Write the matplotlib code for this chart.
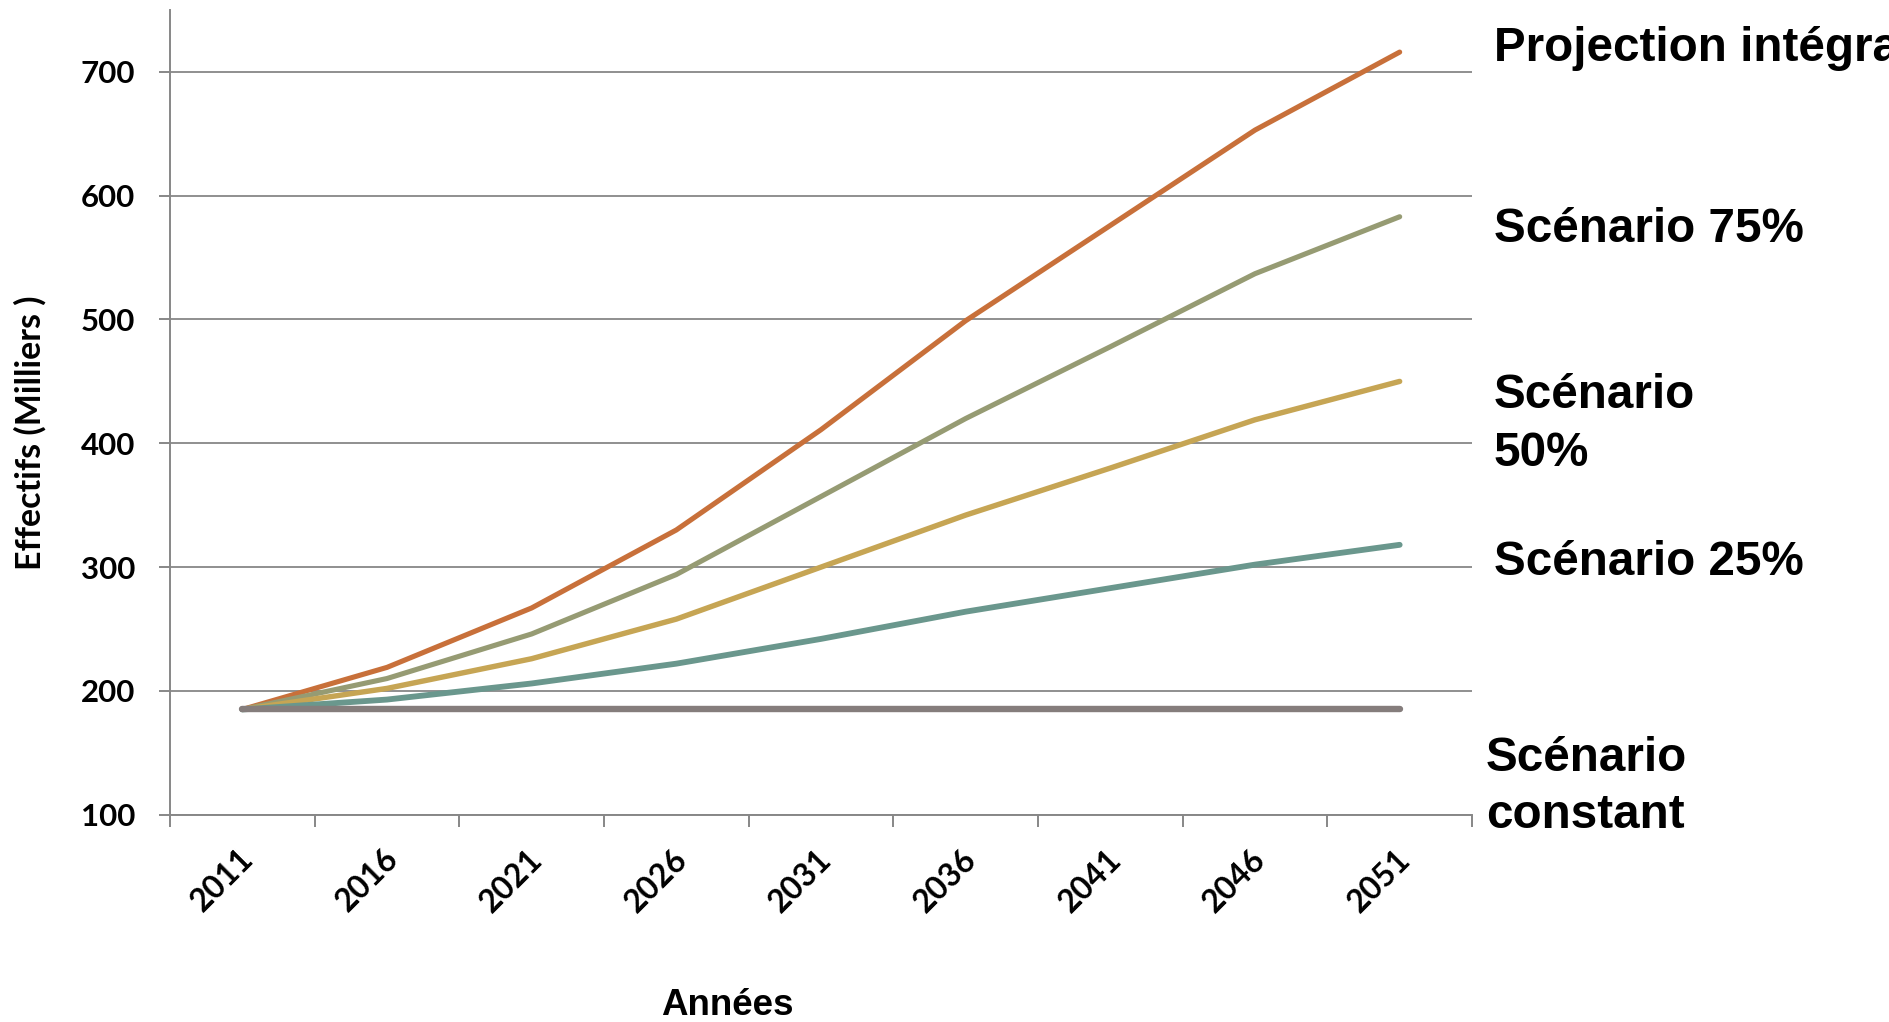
import matplotlib
matplotlib.use("Agg")
import matplotlib.pyplot as plt
from matplotlib.transforms import ScaledTranslation

# Data (thousands)
years = [2011, 2016, 2021, 2026, 2031, 2036, 2041, 2046, 2051]
projection_integrale = [185, 219, 267, 330, 411, 499, 576, 653, 716]
scenario_75 = [185, 210, 246, 294, 357, 420, 478, 537, 583]
scenario_50 = [185, 202, 226, 258, 300, 342, 380, 419, 450]
scenario_25 = [185, 193, 206, 222, 242, 264, 283, 302, 318]
scenario_constant = [185, 185, 185, 185, 185, 185, 185, 185, 185]
y_ticks = [100, 200, 300, 400, 500, 600, 700]

W, H = 1889, 1022
fig = plt.figure(figsize=(W / 100, H / 100), dpi=100)
ax = fig.add_axes([170 / W, 1 - 814.7 / H, (1472 - 170) / W, (814.7 - 10) / H])

grey = "#878787"
ytick_font = dict(family="Lato", weight="bold", size=22.5)
xtick_font = dict(family="Lato", weight="bold", size=23)

x = list(range(len(years)))
series = [
    (projection_integrale, "#C8703A", 3.7),
    (scenario_75, "#969B73", 3.7),
    (scenario_50, "#C6A554", 3.9),
    (scenario_25, "#6A978D", 4.2),
    (scenario_constant, "#857D7C", 4.6),
]
for vals, col, lw in series:
    ax.plot(x, vals, color=col, lw=lw, solid_capstyle="round",
            solid_joinstyle="round", zorder=3)

ax.set_xlim(-0.5, len(years) - 0.5)
ax.set_ylim(100, 750)

# Axes styling
for side in ("top", "right"):
    ax.spines[side].set_visible(False)
for side in ("left", "bottom"):
    ax.spines[side].set_color(grey)
    ax.spines[side].set_linewidth(1.4)

ax.set_yticks(y_ticks)
ax.set_yticklabels([str(v) for v in y_ticks], fontdict=ytick_font)
ax.tick_params(axis="y", length=8, width=1.4, color=grey, pad=17)
ax.yaxis.grid(True, color=grey, lw=1.3)
ax.set_axisbelow(True)

# Category boundaries as ticks, year labels at category centres
ax.set_xticks([i - 0.5 for i in range(len(years) + 1)])
ax.set_xticklabels([])
ax.tick_params(axis="x", which="major", length=8.5, width=1.4, color=grey)
ax.set_xticks(x, minor=True)
ax.set_xticklabels([str(y) for y in years], minor=True, fontdict=xtick_font,
                   rotation=45, ha="right", va="center", rotation_mode="anchor")
ax.tick_params(axis="x", which="minor", length=0, pad=28.5)
shift = ScaledTranslation(0.06, 0, fig.dpi_scale_trans)
for lab in ax.get_xticklabels(minor=True):
    lab.set_transform(lab.get_transform() + shift)

# Axis titles
fig.text(727.5 / W, 1 - 1015 / H, "Années", ha="center", va="baseline",
         family="Liberation Sans", weight="bold", size=26.5)
fig.text(30 / W, 1 - 433 / H, "Effectifs (Milliers )", rotation=90,
         ha="center", va="center", family="Lato", weight="bold", size=24.5)

# Series labels on the right
lab_font = dict(family="Liberation Sans", weight="bold", size=34.3)
labels = [
    (1494, 61, "Projection intégrale"),
    (1494, 242, "Scénario 75%"),
    (1494, 408, "Scénario"),
    (1494, 466, "50%"),
    (1494, 575, "Scénario 25%"),
    (1486, 771, "Scénario"),
    (1486, 828, "constant"),
]
for px, py, txt in labels:
    fig.text(px / W, 1 - py / H, txt, ha="left", va="baseline", **lab_font)

fig.savefig("out.png", dpi=100, facecolor="white")
